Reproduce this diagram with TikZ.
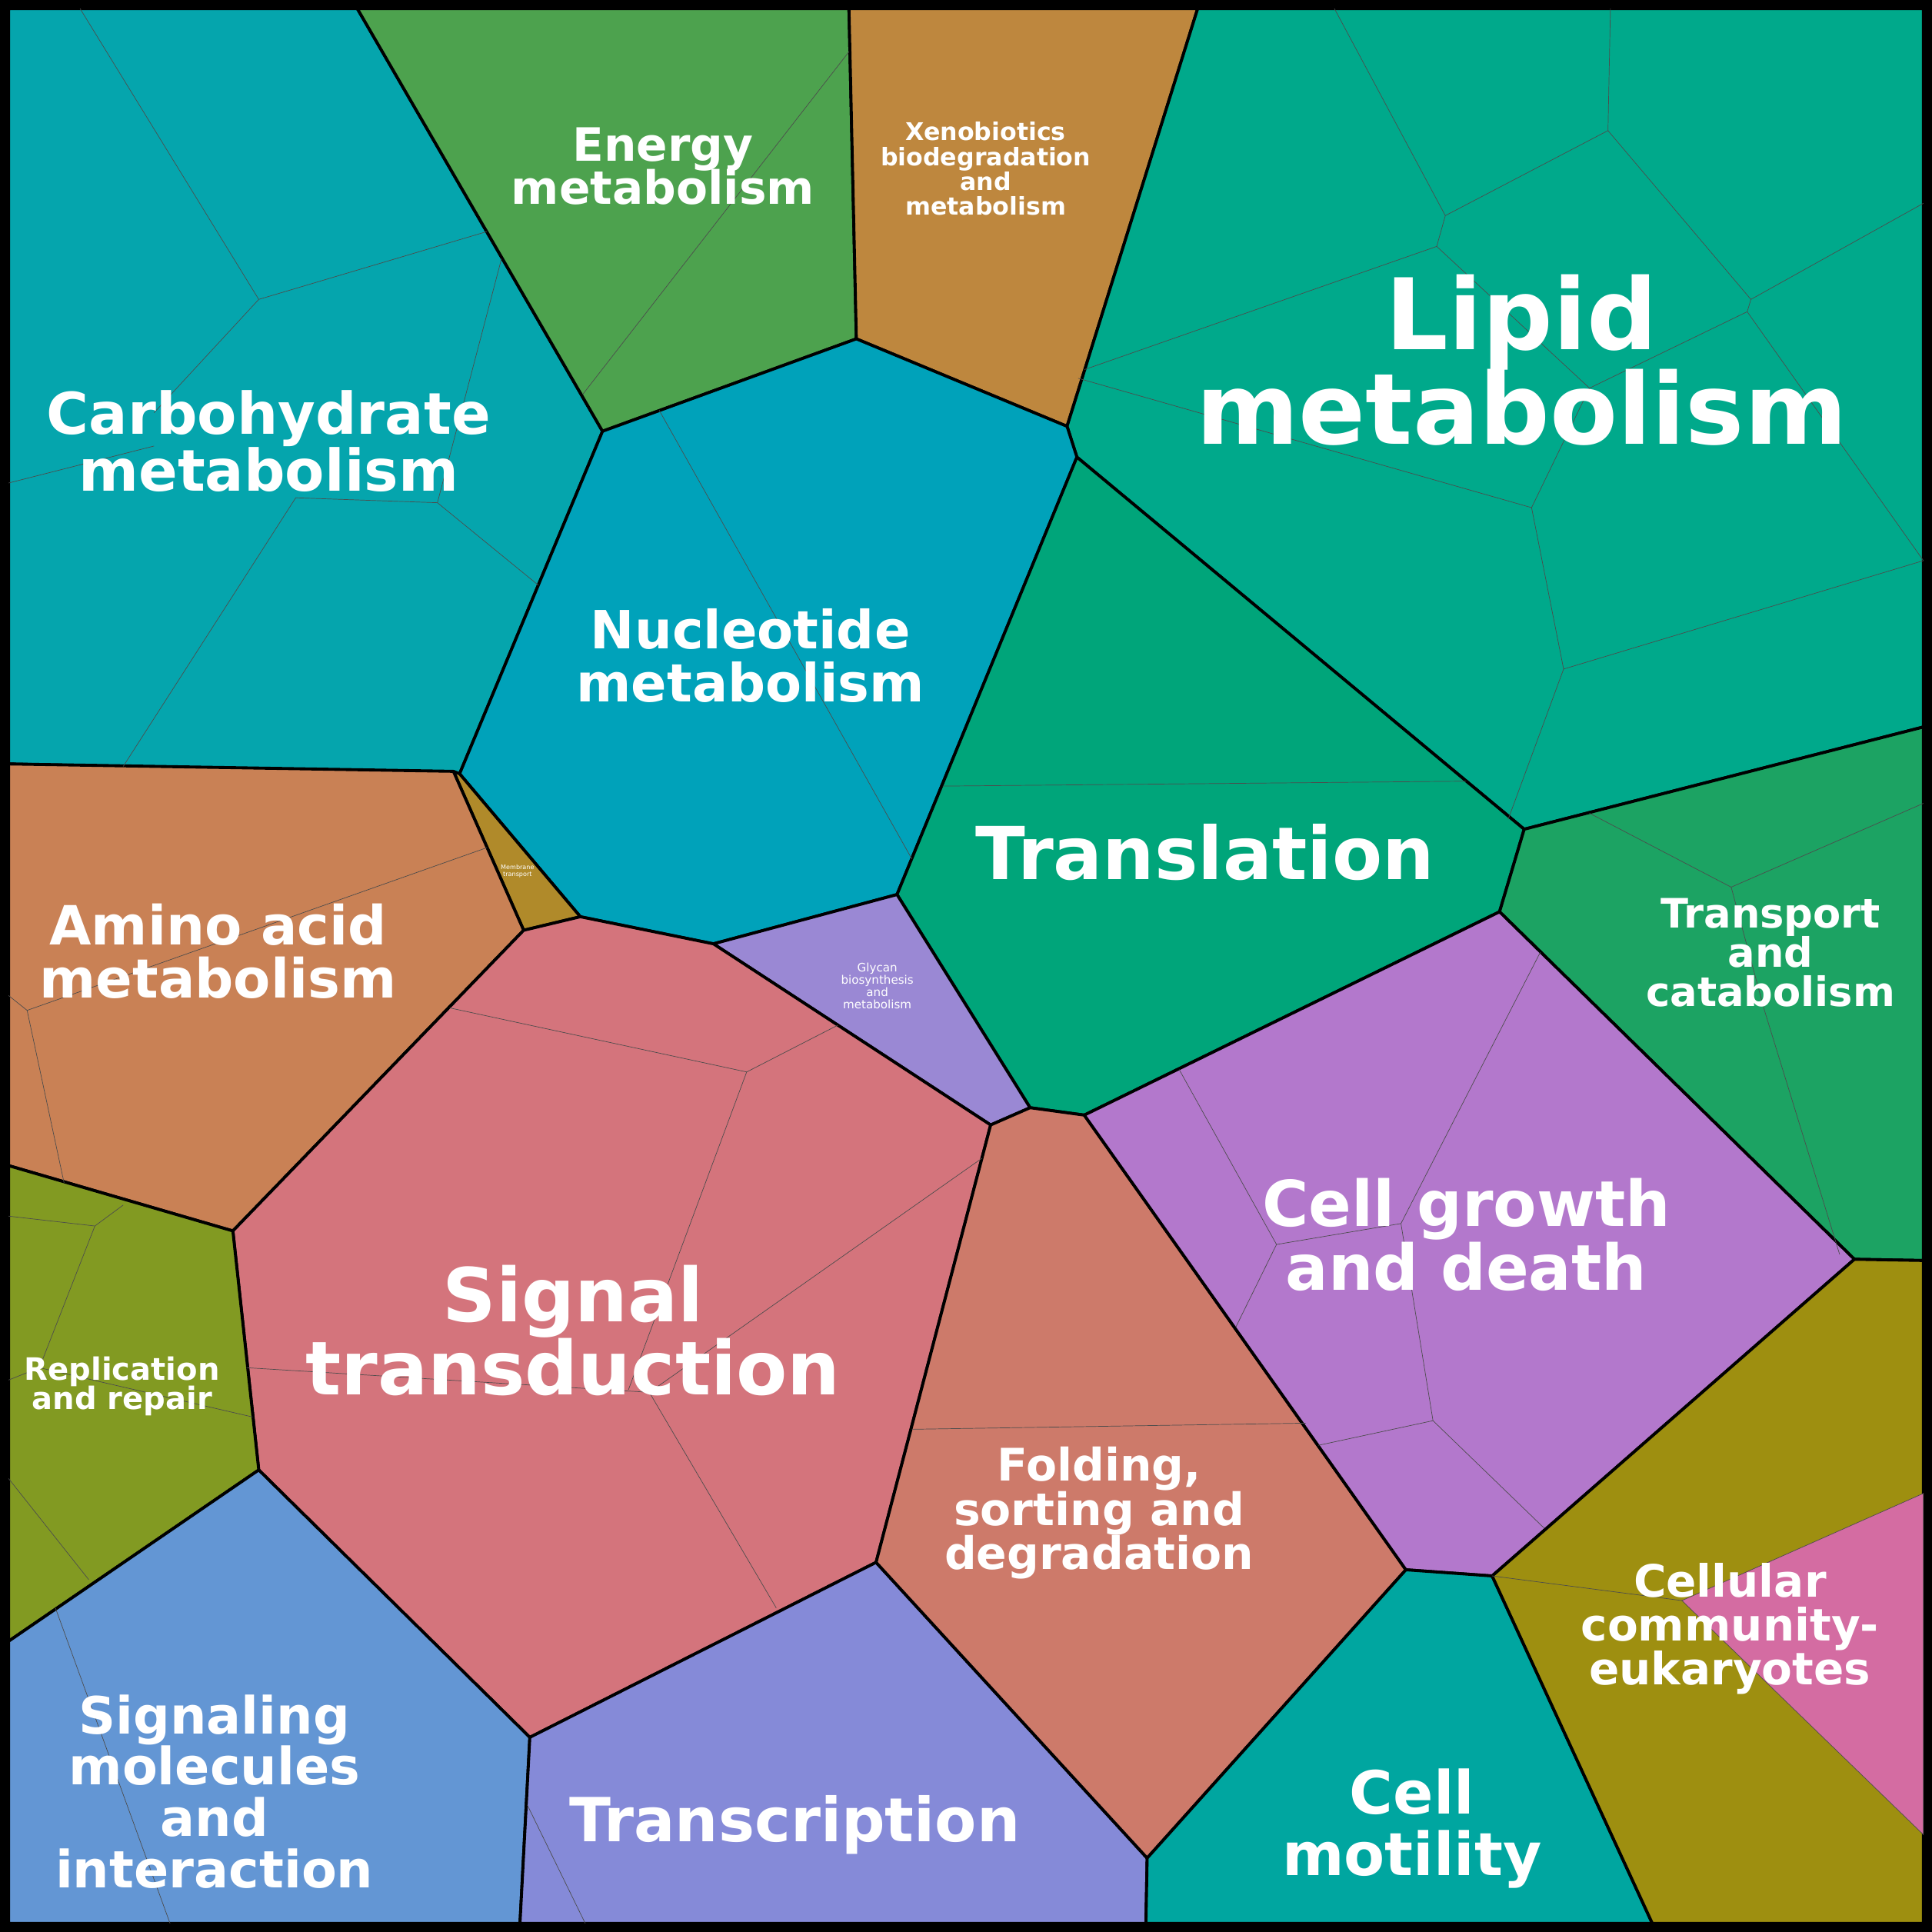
\documentclass[tikz,border=0pt]{standalone}
\usepackage{fontspec}
\setmainfont{DejaVu Sans}
\lineskiplimit=-100pt
\begin{document}
\begin{tikzpicture}[x=0.016020cm,y=-0.016020cm,
  cell/.style={draw=black,line width=1.1pt,line join=round},
  thin/.style={draw=black!70,line width=0.2pt},
  lbl/.style={text=white,font=\bfseries,align=center,inner sep=0pt}]
\lineskiplimit=-100pt
\definecolor{carb}{HTML}{05A5AD}\definecolor{ener}{HTML}{4DA24E}
\definecolor{xeno}{HTML}{BE873E}\definecolor{lipi}{HTML}{00A98B}
\definecolor{nucl}{HTML}{00A2BA}\definecolor{tran}{HTML}{00A57A}
\definecolor{tcat}{HTML}{1CA363}\definecolor{memb}{HTML}{B08A2A}
\definecolor{amin}{HTML}{C98155}\definecolor{glyc}{HTML}{9A88D4}
\definecolor{sign}{HTML}{D4747C}\definecolor{repl}{HTML}{829A22}
\definecolor{smol}{HTML}{6396D4}\definecolor{tscr}{HTML}{858AD8}
\definecolor{fold}{HTML}{CD7A6A}\definecolor{grow}{HTML}{B378CC}
\definecolor{moti}{HTML}{00A6A0}\definecolor{ccom}{HTML}{9E8F10}
\definecolor{pink}{HTML}{D46CA2}
\useasboundingbox (0,0) rectangle (1568,1568);
\fill[black] (0,0) rectangle (1568,1568);
% cells
\path[cell,fill=carb] (7,7)--(290,7)--(489,350)--(373,628)--(7,620)--cycle;
\path[cell,fill=ener] (290,7)--(689,7)--(695,275)--(489,350)--cycle;
\path[cell,fill=xeno] (689,7)--(972,7)--(866,346)--(695,275)--cycle;
\path[cell,fill=lipi] (972,7)--(1561,7)--(1561,590)--(1237,673)--(874,371)--(866,346)--cycle;
\path[cell,fill=nucl] (489,350)--(695,275)--(866,346)--(874,371)--(728,726)--(579,766)--(471,744)--(373,628)--cycle;
\path[cell,fill=tran] (874,371)--(1237,673)--(1217,740)--(880,905)--(836,899)--(728,726)--cycle;
\path[cell,fill=tcat] (1237,673)--(1561,590)--(1561,1023)--(1505,1022)--(1217,740)--cycle;
\path[cell,fill=memb] (368,626)--(373,628)--(471,744)--(425,755)--cycle;
\path[cell,fill=amin] (7,620)--(368,626)--(425,755)--(189,999)--(7,946)--cycle;
\path[cell,fill=glyc] (579,766)--(728,726)--(836,899)--(804,913)--cycle;
\path[cell,fill=sign] (425,755)--(471,744)--(579,766)--(804,913)--(711,1268)--(430,1410)--(210,1193)--(189,999)--cycle;
\path[cell,fill=repl] (7,946)--(189,999)--(210,1193)--(7,1332)--cycle;
\path[cell,fill=smol] (7,1332)--(210,1193)--(430,1410)--(422,1561)--(7,1561)--cycle;
\path[cell,fill=tscr] (430,1410)--(711,1268)--(931,1508)--(930,1561)--(422,1561)--cycle;
\path[cell,fill=fold] (804,913)--(836,899)--(880,905)--(1141,1274)--(931,1508)--(711,1268)--cycle;
\path[cell,fill=grow] (880,905)--(1217,740)--(1505,1022)--(1211,1279)--(1141,1274)--cycle;
\path[cell,fill=moti] (1141,1274)--(1211,1279)--(1341,1561)--(930,1561)--(931,1508)--cycle;
\path[cell,fill=ccom] (1211,1279)--(1505,1022)--(1561,1023)--(1561,1561)--(1341,1561)--cycle;
\path[thin,fill=pink] (1561,1212)--(1365,1299)--(1561,1489)--cycle;
% thin internal lines
\draw[thin] (65,7)--(210,243)--(395,188);
\draw[thin] (210,243)--(125,335);
\draw[thin] (407,210)--(355,408)--(240,404)--(100,622);
\draw[thin] (355,408)--(437,475);
\draw[thin] (7,392)--(125,362);
\draw[thin] (689,42)--(473,320);
\draw[thin] (1083,7)--(1173,175)--(1305,106)--(1307,7);
\draw[thin] (1173,175)--(1166,200)--(880,300);
\draw[thin] (1305,106)--(1421,243)--(1561,165);
\draw[thin] (1421,243)--(1418,253)--(1290,315);
\draw[thin] (1418,253)--(1561,455);
\draw[thin] (1166,200)--(1290,315);
\draw[thin] (875,307)--(1243,412)--(1269,543)--(1561,455);
\draw[thin] (1243,412)--(1290,315);
\draw[thin] (1269,543)--(1224,665);
\draw[thin] (535,333)--(740,697);
\draw[thin] (765,638)--(1190,634);
\draw[thin] (1290,660)--(1405,720)--(1561,652);
\draw[thin] (1405,720)--(1432,820)--(1493,1018);
\draw[thin] (7,808)--(22,820)--(395,688);
\draw[thin] (22,820)--(52,960);
\draw[thin] (365,818)--(606,870)--(680,832);
\draw[thin] (606,870)--(510,1128);
\draw[thin] (200,1110)--(527,1130)--(630,1305);
\draw[thin] (527,1130)--(797,940);
\draw[thin] (7,987)--(77,995)--(100,978);
\draw[thin] (77,995)--(32,1110)--(7,1120);
\draw[thin] (32,1110)--(205,1150);
\draw[thin] (7,1200)--(72,1282);
\draw[thin] (45,1305)--(138,1561);
\draw[thin] (428,1465)--(475,1561);
\draw[thin] (740,1160)--(1060,1155);
\draw[thin] (957,868)--(1036,1010)--(1003,1077);
\draw[thin] (1036,1010)--(1137,993)--(1250,773);
\draw[thin] (1137,993)--(1163,1153)--(1070,1173);
\draw[thin] (1163,1153)--(1253,1240);
\draw[thin] (1211,1279)--(1365,1299);
% labels
\node[lbl,font=\bfseries\fontsize{36.5}{35}\selectfont] (l1) at (1235,292) {Lipid\\metabolism};
\node[lbl,font=\bfseries\fontsize{27.5}{27}\selectfont] (l2) at (465,1080) {Signal\\transduction};
\node[lbl,font=\bfseries\fontsize{27}{27}\selectfont] (l3) at (978,692) {Translation};
\node[lbl,font=\bfseries\fontsize{23.4}{23.6}\selectfont] (l4) at (1190,1002) {Cell growth\\and death};
\node[lbl,font=\bfseries\fontsize{21.3}{21}\selectfont] (l5) at (218,358) {Carbohydrate\\metabolism};
\node[lbl,font=\bfseries\fontsize{19.5}{19.5}\selectfont] (l6) at (609,532) {Nucleotide\\metabolism};
\node[lbl,font=\bfseries\fontsize{17}{16}\selectfont] (l7) at (538,135) {Energy\\metabolism};
\node[lbl,font=\bfseries\fontsize{9}{9.2}\selectfont] (l8) at (800,137) {Xenobiotics\\biodegradation\\and\\metabolism};
\node[lbl,font=\bfseries\fontsize{20}{19.5}\selectfont] (l9) at (177,772) {Amino acid\\metabolism};
\node[lbl,font=\bfseries\fontsize{15}{14.5}\selectfont] (l10) at (1437,773) {Transport\\and\\catabolism};
\node[lbl,font=\bfseries\fontsize{11.4}{11}\selectfont] (l11) at (99,1125) {Replication\\and repair};
\node[lbl,font=\bfseries\fontsize{16.6}{16.3}\selectfont] (l12) at (892,1228) {Folding,\\sorting and\\degradation};
\node[lbl,font=\bfseries\fontsize{16.5}{16.3}\selectfont] (l13) at (1404,1322) {Cellular\\community-\\eukaryotes};
\node[lbl,font=\bfseries\fontsize{19}{19}\selectfont] (l14) at (174,1454) {Signaling\\molecules\\and\\interaction};
\node[lbl,font=\bfseries\fontsize{22.5}{22}\selectfont] (l15) at (645,1481) {Transcription};
\node[lbl,font=\bfseries\fontsize{22}{23}\selectfont] (l16) at (1146,1484) {Cell\\motility};
\node[lbl,font=\fontsize{4.3}{4.5}\selectfont] (l17) at (712,800) {Glycan\\biosynthesis\\and\\metabolism};
\node[lbl,font=\fontsize{2.3}{2.5}\selectfont] (l18) at (420,707) {Membrane\\transport};
\end{tikzpicture}
\end{document}
